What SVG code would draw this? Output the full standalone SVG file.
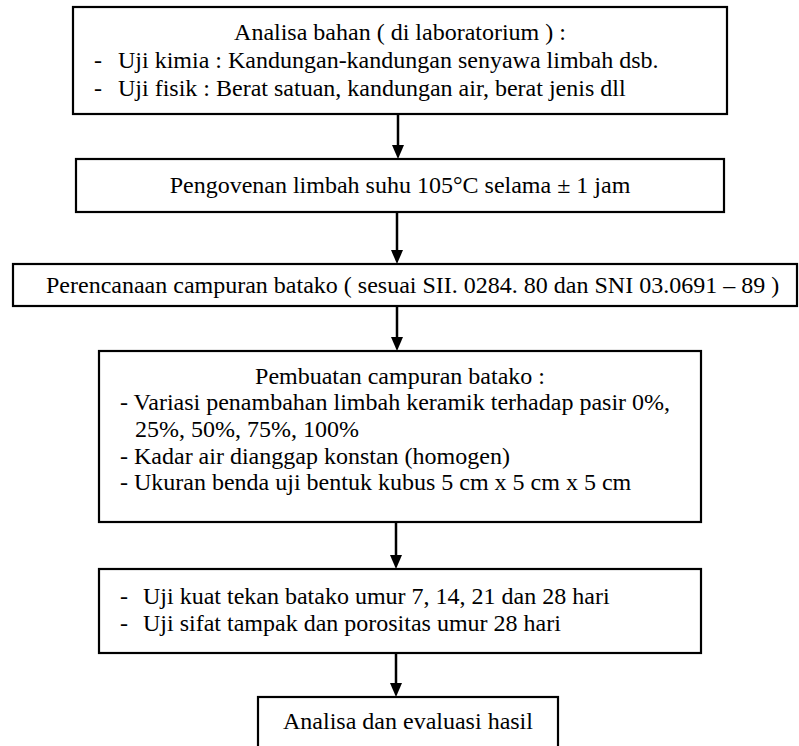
<svg xmlns="http://www.w3.org/2000/svg" width="799" height="746" viewBox="0 0 799 746">
<style>
.box{fill:#fff;stroke:#000;stroke-width:2.2}
.t{font-family:"Liberation Serif","Times New Roman",serif;font-size:24px;fill:#000}
.c{text-anchor:middle}
.conn{stroke:#000;stroke-width:2.5;fill:none}
.head{fill:#000}
</style>
<rect width="799" height="746" fill="#fff"/>
<g id="connectors">
<path class="conn" d="M398,114 V145"/><polygon class="head" points="392,145 404,145 398,159"/>
<path class="conn" d="M397,212 V250"/><polygon class="head" points="391,250 403,250 397,264"/>
<path class="conn" d="M397,306 V337"/><polygon class="head" points="391,337 403,337 397,351"/>
<path class="conn" d="M396,522 V555"/><polygon class="head" points="390,555 402,555 396,569"/>
<path class="conn" d="M396,653 V683"/><polygon class="head" points="390,683 402,683 396,697"/>
</g>
<g id="n1" font-family="Liberation Serif, serif">
<rect class="box" x="73" y="7" width="654" height="107" stroke-width="2.6"/>
<text class="t c" x="400" y="40">Analisa bahan ( di laboratorium ) :</text>
<text class="t" x="94" y="68">-</text><text class="t" x="118" y="68">Uji kimia : Kandungan-kandungan senyawa limbah dsb.</text>
<text class="t" x="94" y="96">-</text><text class="t" x="118" y="96">Uji fisik : Berat satuan, kandungan air, berat jenis dll</text>
</g>
<g id="n2" font-family="Liberation Serif, serif">
<rect class="box" x="76" y="159" width="648" height="53"/>
<text class="t c" x="400" y="193">Pengovenan limbah suhu 105°C selama ± 1 jam</text>
</g>
<g id="n3" font-family="Liberation Serif, serif">
<rect class="box" x="13" y="264" width="784" height="42"/>
<text class="t" x="46" y="293">Perencanaan campuran batako ( sesuai SII. 0284. 80 dan SNI 03.0691 – 89 )</text>
</g>
<g id="n4" font-family="Liberation Serif, serif">
<rect class="box" x="99" y="351" width="602" height="171"/>
<text class="t c" x="400" y="384">Pembuatan campuran batako :</text>
<text class="t" x="120" y="410">- Variasi penambahan limbah keramik terhadap pasir 0%,</text>
<text class="t" x="135" y="437">25%, 50%, 75%, 100%</text>
<text class="t" x="120" y="464">- Kadar air dianggap konstan (homogen)</text>
<text class="t" x="120" y="490">- Ukuran benda uji bentuk kubus 5 cm x 5 cm x 5 cm</text>
</g>
<g id="n5" font-family="Liberation Serif, serif">
<rect class="box" x="99" y="569" width="602" height="84"/>
<text class="t" x="120" y="604">-</text><text class="t" x="143" y="604">Uji kuat tekan batako umur 7, 14, 21 dan 28 hari</text>
<text class="t" x="120" y="631">-</text><text class="t" x="143" y="631">Uji sifat tampak dan porositas umur 28 hari</text>
</g>
<g id="n6" font-family="Liberation Serif, serif">
<rect class="box" x="258" y="697" width="300" height="60"/>
<text class="t c" x="408" y="729">Analisa dan evaluasi hasil</text>
</g>
</svg>
